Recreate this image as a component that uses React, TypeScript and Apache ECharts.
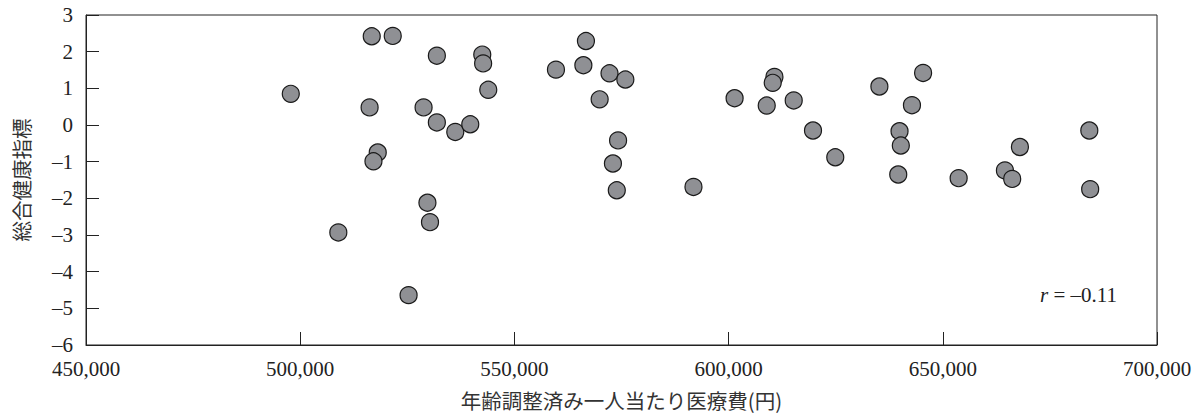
import React, { useEffect, useRef } from "react";
import * as echarts from "echarts";

// 年齢調整済み一人当たり医療費(円) and 総合健康指標, one point per prefecture
const medicalCost: number[] = [
  497800, 516700, 521600, 516200, 518100, 517100, 508900,
  531900, 542500, 542700, 543900, 528800, 531900, 536200, 539700, 529700, 530300, 525300,
  559700, 566700, 566100, 572200, 575900, 569900, 574200, 573000, 573900, 591800,
  601400, 610700, 610300, 608900, 615200,
  619700, 624900, 635200, 645400, 642800, 639900, 640200, 639600, 653700,
  664500, 666200, 668000, 684200, 684400,
];
const healthIndex: number[] = [
  0.85, 2.42, 2.43, 0.48, -0.75, -0.99, -2.93,
  1.89, 1.92, 1.68, 0.96, 0.48, 0.07, -0.19, 0.02, -2.12, -2.65, -4.64,
  1.51, 2.29, 1.63, 1.41, 1.24, 0.7, -0.42, -1.05, -1.78, -1.69,
  0.73, 1.31, 1.15, 0.53, 0.67,
  -0.15, -0.88, 1.05, 1.42, 0.54, -0.17, -0.56, -1.35, -1.45,
  -1.24, -1.47, -0.6, -0.15, -1.75,
];
const xAxisName = "年齢調整済み一人当たり医療費(円)";
const yAxisName = "総合健康指標";
const correlationLabel = "–0.11";

const xMin = 450000;
const xMax = 700000;
const xInterval = 50000;
const yMin = -6;
const yMax = 3;
const yInterval = 1;

export default function App() {
  const ref = useRef<HTMLDivElement>(null);
  useEffect(() => {
    if (!ref.current) return;
    const chart = echarts.init(ref.current, null, { renderer: "svg" });
    const serif = "Liberation Serif";
    const cjk = "Noto Sans CJK JP";
    const data = medicalCost.map((x, i) => [x, healthIndex[i]]);
    chart.setOption({
      animation: false,
      backgroundColor: "#ffffff",
      grid: {
        left: 86,
        top: 15,
        right: 41,
        bottom: 72,
        show: true,
        borderColor: "#222",
        borderWidth: 1,
        backgroundColor: "transparent",
      },
      xAxis: {
        type: "value",
        min: xMin,
        max: xMax,
        interval: xInterval,
        name: xAxisName,
        nameLocation: "middle",
        nameGap: 45,
        nameTextStyle: { fontFamily: cjk, fontSize: 20.5, color: "#333" },
        axisLine: { show: true, onZero: false, lineStyle: { color: "#222", width: 1 } },
        axisTick: { show: true, inside: true, length: 13, lineStyle: { color: "#222" } },
        axisLabel: {
          fontFamily: serif,
          fontSize: 21,
          color: "#222",
          margin: 13,
          formatter: (v: number) => v.toLocaleString("en-US"),
        },
        splitLine: { show: false },
      },
      yAxis: {
        type: "value",
        min: yMin,
        max: yMax,
        interval: yInterval,
        name: yAxisName,
        nameLocation: "middle",
        nameGap: 55,
        nameTextStyle: { fontFamily: cjk, fontSize: 20.5, color: "#333" },
        axisLine: { show: true, onZero: false, lineStyle: { color: "#222", width: 1 } },
        axisTick: { show: true, inside: true, length: 13, lineStyle: { color: "#222" } },
        axisLabel: {
          fontFamily: serif,
          fontSize: 21,
          color: "#222",
          margin: 13,
          formatter: (v: number) => (v < 0 ? "–" + Math.abs(v) : String(v)),
        },
        splitLine: { show: false },
      },
      series: [
        {
          type: "scatter",
          data,
          symbol: "circle",
          symbolSize: 17,
          itemStyle: {
            color: "#8f9094",
            borderColor: "#1a1a1a",
            borderWidth: 1.2,
            opacity: 1,
          },
          emphasis: { disabled: true },
        },
      ],
      graphic: [
        {
          type: "text",
          right: 81,
          top: 284,
          style: {
            text: "{i|r} = " + correlationLabel,
            fontFamily: serif,
            fontSize: 21,
            fill: "#222",
            rich: {
              i: { fontStyle: "italic", fontFamily: serif, fontSize: 21, fill: "#222" },
            },
          },
        },
      ],
    });
    return () => chart.dispose();
  }, []);
  return (
    <div
      ref={ref}
      style={{ position: "fixed", left: 0, top: 0, width: 1198, height: 417, background: "#fff" }}
    />
  );
}
